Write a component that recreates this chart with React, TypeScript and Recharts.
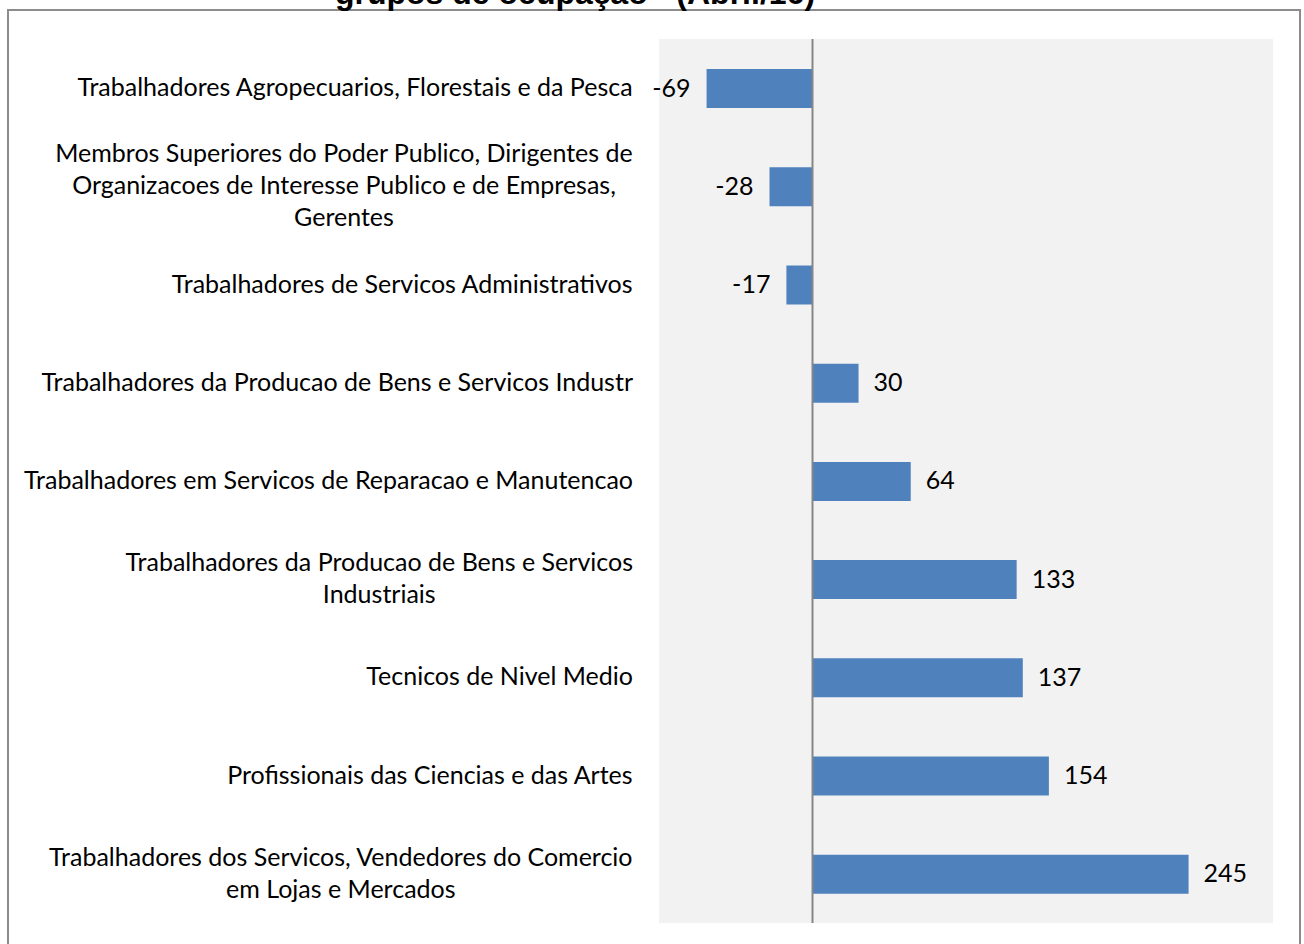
import React from 'react';
import { BarChart, Bar, XAxis, YAxis, CartesianGrid, ReferenceLine, LabelList } from 'recharts';

const categories = [
  'Trabalhadores Agropecuarios, Florestais e da Pesca',
  'Membros Superiores do Poder Publico, Dirigentes de\nOrganizacoes de Interesse Publico e de Empresas,\nGerentes',
  'Trabalhadores de Servicos Administrativos',
  'Trabalhadores da Producao de Bens e Servicos Industr',
  'Trabalhadores em Servicos de Reparacao e Manutencao',
  'Trabalhadores da Producao de Bens e Servicos\nIndustriais',
  'Tecnicos de Nivel Medio',
  'Profissionais das Ciencias e das Artes',
  'Trabalhadores dos Servicos, Vendedores do Comercio\nem Lojas e Mercados',
];

const saldo = [-69, -28, -17, 30, 64, 133, 137, 154, 245];

const data = categories.map((name, i) => ({ name, value: saldo[i] }));

const FONT = 'Lato, "Open Sans", sans-serif';
const FONT_SIZE = 25;
const LINE_H = 32;

let ctx: CanvasRenderingContext2D | null = null;
function textWidth(s: string) {
  if (!ctx) ctx = document.createElement('canvas').getContext('2d');
  if (!ctx) return s.length * 11;
  ctx.font = `${FONT_SIZE}px ${FONT}`;
  return ctx.measureText(s).width;
}

function CategoryTick(props: any) {
  const { x, y, payload } = props;
  const lines: string[] = String(payload.value).split('\n');
  const right = x - 18;
  const maxW = Math.max(...lines.map(textWidth));
  const cx = right - maxW / 2;
  const y0 = y - 2 - ((lines.length - 1) * LINE_H) / 2;
  return (
    <text
      textAnchor="middle"
      fontFamily={FONT}
      fontSize={FONT_SIZE}
      fill="#000"
      dominantBaseline="central"
    >
      {lines.map((l, i) => (
        <tspan key={i} x={cx} y={y0 + i * LINE_H}>
          {l}
        </tspan>
      ))}
    </text>
  );
}

function ValueLabel(props: any) {
  const { x, y, width, height, value } = props;
  const left = Math.min(x, x + width);
  const rightEdge = Math.max(x, x + width);
  const neg = value < 0;
  return (
    <text
      x={neg ? left - 16 : rightEdge + 15}
      y={y + height / 2 - 2}
      textAnchor={neg ? 'end' : 'start'}
      dominantBaseline="central"
      fontFamily={FONT}
      fontSize={FONT_SIZE}
      fill="#000"
    >
      {value}
    </text>
  );
}

export default function App() {
  return (
    <div
      style={{
        position: 'absolute',
        left: 0,
        top: 0,
        width: 1304,
        height: 944,
        overflow: 'hidden',
        background: '#fff',
      }}
    >
      <div
        style={{
          position: 'absolute',
          left: 7,
          top: 9,
          width: 1290,
          height: 980,
          border: '2px solid #8c8c8c',
        }}
      />
      <div
        style={{
          position: 'absolute',
          left: 0,
          width: 1150,
          top: -22,
          textAlign: 'center',
          fontFamily: '"Liberation Sans", Arial, sans-serif',
          fontWeight: 'bold',
          fontSize: 32,
          lineHeight: '30px',
          whiteSpace: 'nowrap',
        }}
      >
        grupos de ocupação - (Abril/16)
      </div>
      <div style={{ position: 'absolute', left: 0, top: 0 }}>
        <BarChart
          width={1304}
          height={944}
          data={data}
          layout="vertical"
          margin={{ top: 39, right: 31, bottom: 21, left: 0 }}
          barSize={39}
        >
          <CartesianGrid fill="#f2f2f2" horizontal={false} vertical={false} />
          <XAxis type="number" domain={[-100, 300]} hide />
          <YAxis
            type="category"
            dataKey="name"
            width={659}
            axisLine={false}
            tickLine={false}
            interval={0}
            tick={<CategoryTick />}
          />
          <ReferenceLine x={0} stroke="#868686" strokeWidth={2} />
          <Bar dataKey="value" fill="#4f81bd" isAnimationActive={false}>
            <LabelList dataKey="value" content={<ValueLabel />} />
          </Bar>
        </BarChart>
      </div>
    </div>
  );
}
